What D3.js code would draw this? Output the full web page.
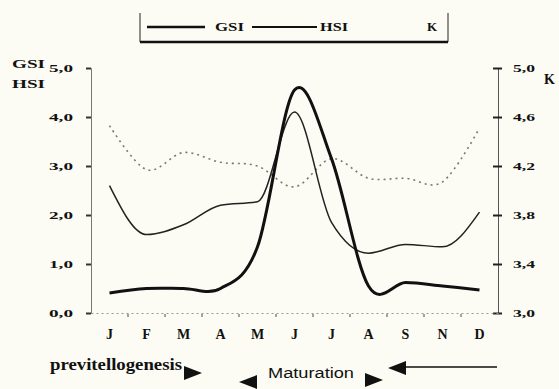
<!DOCTYPE html>
<html>
<head>
<meta charset="utf-8">
<script src="https://cdn.jsdelivr.net/npm/d3@7"></script>
<style>
	body { margin: 0; background: #fcfcf4; }
	svg { display: block; }
	.serif { font-family: 'Liberation Serif', 'DejaVu Serif', serif; font-weight: bold; fill: #111; }
	.sans { font-family: 'Liberation Sans', Arial, sans-serif; fill: #111; }
</style>
</head>
<body>
<svg id="chart" width="559" height="389"></svg>
<script>
'use strict'

// months as printed on the figure (no October)
const months = ['J', 'F', 'M', 'A', 'M', 'J', 'J', 'A', 'S', 'N', 'D']
const gsi = [0.41, 0.5, 0.5, 0.5, 1.35, 4.55, 3.15, 0.55, 0.62, 0.55, 0.47]
const hsi = [2.6, 1.6, 1.8, 2.2, 2.27, 4.1, 1.85, 1.22, 1.4, 1.35, 2.06]
const kFactor = [4.53, 4.17, 4.31, 4.23, 4.2, 4.03, 4.26, 4.1, 4.1, 4.07, 4.51]

const leftTicks = [0, 1, 2, 3, 4, 5]
const rightTicks = [3.0, 3.4, 3.8, 4.2, 4.6, 5.0]

const svg = d3.select('#chart')

const x = d3.scaleBand()
	.domain(d3.range(months.length))
	.range([91, 498])

const yLeft = d3.scaleLinear().domain([0, 5]).range([313, 68])
const yRight = d3.scaleLinear().domain([3, 5]).range([313, 68])

const comma = (v) => d3.format('.1f')(v).replace('.', ',')

// left axis
const leftAxis = svg.append('g')
	.attr('transform', 'translate(91,0)')
	.call(d3.axisLeft(yLeft).tickValues(leftTicks).tickSize(5).tickPadding(13).tickFormat(comma))
leftAxis.select('.domain').attr('stroke', '#777').attr('stroke-width', 1)
leftAxis.selectAll('.tick line').attr('stroke', '#333').attr('stroke-width', 2)
leftAxis.selectAll('.tick text')
	.attr('class', 'serif')
	.attr('textLength', 24)
	.attr('lengthAdjust', 'spacingAndGlyphs')
	.style('font-size', '11px')

// right axis
const rightAxis = svg.append('g')
	.attr('transform', 'translate(498,0)')
	.call(d3.axisRight(yRight).tickValues(rightTicks).tickSize(4).tickPadding(11).tickFormat(comma))
rightAxis.select('.domain').attr('stroke', '#555').attr('stroke-width', 1)
rightAxis.selectAll('.tick line').attr('stroke', '#222').attr('stroke-width', 2).attr('x1', -5)
rightAxis.selectAll('.tick text')
	.attr('class', 'serif')
	.attr('textLength', 22)
	.attr('lengthAdjust', 'spacingAndGlyphs')
	.style('font-size', '11px')

// bottom axis: faint dotted baseline, small ticks between months
const bottom = svg.append('g')
	.attr('transform', 'translate(0,313)')
	.call(d3.axisBottom(x).tickSize(0).tickPadding(16).tickFormat((i) => months[i]))
bottom.select('.domain')
	.attr('stroke', '#999')
	.attr('stroke-dasharray', '2,3')
bottom.selectAll('.tick text')
	.attr('class', 'serif')
	.style('font-size', '14px')

bottom.selectAll('.minor')
	.data(d3.range(1, months.length))
	.enter()
	.append('line')
	.attr('class', 'minor')
	.attr('x1', (i) => x(i))
	.attr('x2', (i) => x(i))
	.attr('y1', 1)
	.attr('y2', 4)
	.attr('stroke', '#666')
	.attr('stroke-width', 1.2)

const cx = (d, i) => x(i) + x.bandwidth() / 2

// uniform Catmull-Rom, like the spreadsheet smoothing of the original
const lineLeft = d3.line()
	.x(cx)
	.y((d) => yLeft(d))
	.curve(d3.curveCardinal.tension(0))

// HSI stays flat before its peak, monotone fits it better
const lineHsi = d3.line()
	.x(cx)
	.y((d) => yLeft(d))
	.curve(d3.curveMonotoneX)

const lineRight = d3.line()
	.x(cx)
	.y((d) => yRight(d))
	.curve(d3.curveCardinal.tension(0))

svg.append('path')
	.datum(kFactor)
	.attr('d', lineRight)
	.attr('fill', 'none')
	.attr('stroke', '#777')
	.attr('stroke-width', 1.6)
	.attr('stroke-dasharray', '2,4')

svg.append('path')
	.datum(hsi)
	.attr('d', lineHsi)
	.attr('fill', 'none')
	.attr('stroke', '#222')
	.attr('stroke-width', 1.5)

svg.append('path')
	.datum(gsi)
	.attr('d', lineLeft)
	.attr('fill', 'none')
	.attr('stroke', '#111')
	.attr('stroke-width', 3)

// axis titles
svg.append('text').attr('class', 'serif').attr('x', 12).attr('y', 68)
	.attr('textLength', 33).attr('lengthAdjust', 'spacingAndGlyphs')
	.style('font-size', '12px').text('GSI')
svg.append('text').attr('class', 'serif').attr('x', 12).attr('y', 88)
	.attr('textLength', 33).attr('lengthAdjust', 'spacingAndGlyphs')
	.style('font-size', '12px').text('HSI')
svg.append('text').attr('class', 'serif').attr('x', 544).attr('y', 84).style('font-size', '14px').text('K')

// legend box
const legend = svg.append('g')
legend.append('path')
	.attr('d', 'M140,13V42H448V13')
	.attr('fill', 'none')
	.attr('stroke', '#222')
	.attr('stroke-width', 1)
legend.append('line')
	.attr('x1', 140).attr('x2', 448).attr('y1', 42).attr('y2', 42)
	.attr('stroke', '#111').attr('stroke-width', 2.5)
legend.append('line')
	.attr('x1', 147).attr('x2', 205).attr('y1', 27).attr('y2', 27)
	.attr('stroke', '#111').attr('stroke-width', 2.5)
legend.append('text').attr('class', 'serif').attr('x', 215).attr('y', 31)
	.attr('textLength', 29).attr('lengthAdjust', 'spacingAndGlyphs')
	.style('font-size', '12px').text('GSI')
legend.append('line')
	.attr('x1', 252).attr('x2', 317).attr('y1', 27).attr('y2', 27)
	.attr('stroke', '#111').attr('stroke-width', 2)
legend.append('text').attr('class', 'serif').attr('x', 320).attr('y', 31)
	.attr('textLength', 28).attr('lengthAdjust', 'spacingAndGlyphs')
	.style('font-size', '12px').text('HSI')
legend.append('text').attr('class', 'serif').attr('x', 427).attr('y', 31).style('font-size', '13px').text('K')

// phase annotations
const notes = svg.append('g')
notes.append('text')
	.attr('class', 'serif')
	.attr('x', 50).attr('y', 370)
	.attr('textLength', 132)
	.attr('lengthAdjust', 'spacingAndGlyphs')
	.style('font-size', '16px')
	.text('previtellogenesis')
notes.append('text')
	.attr('class', 'sans')
	.attr('x', 268).attr('y', 378)
	.attr('textLength', 86)
	.attr('lengthAdjust', 'spacingAndGlyphs')
	.style('font-size', '14px')
	.text('Maturation')

const tri = (x0, y0, dir) => {
	const w = 18, h = 7
	return dir > 0
		? `M${x0},${y0 - h}L${x0 + w},${y0}L${x0},${y0 + h}Z`
		: `M${x0 + w},${y0 - h}L${x0},${y0}L${x0 + w},${y0 + h}Z`
}
notes.append('path').attr('d', tri(184, 373, 1)).attr('fill', '#111')
notes.append('path').attr('d', tri(239, 382, -1)).attr('fill', '#111')
notes.append('path').attr('d', tri(365, 380, 1)).attr('fill', '#111')
notes.append('path').attr('d', tri(388, 368, -1)).attr('fill', '#111')
notes.append('line')
	.attr('x1', 400).attr('x2', 497).attr('y1', 367).attr('y2', 367)
	.attr('stroke', '#111').attr('stroke-width', 1.5)
</script>
</body>
</html>
